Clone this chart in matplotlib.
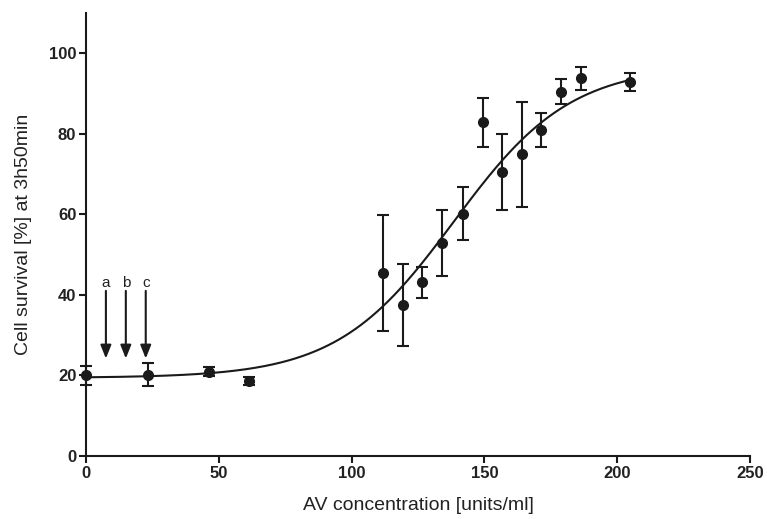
#!/usr/bin/env python3

import numpy as np
import matplotlib
matplotlib.use("Agg")
import matplotlib.pyplot as plt

plt.rcParams['font.family'] = ['Liberation Sans', 'DejaVu Sans']

# measured survival, mean and error
conc = [0, 23.4, 46.4, 61.5, 111.9, 119.4, 126.7, 134.2, 141.8, 149.3,
        156.7, 164.1, 171.5, 179.0, 186.4, 205.0]
survival = [20.0, 20.2, 20.9, 18.6, 45.4, 37.4, 43.1, 52.8, 60.2, 82.9,
            70.5, 74.9, 80.9, 90.5, 93.8, 92.9]
err = [2.3, 2.9, 1.1, 1.0, 14.4, 10.2, 3.8, 8.2, 6.5, 6.1,
       9.4, 13.0, 4.2, 3.2, 2.9, 2.3]

# sigmoid fit parameters (bottom, top, midpoint, slope)
fit_bottom = 19.4
fit_top = 97.0
fit_mid = 138.5
fit_slope = 22.0
fit_range = (0, 205)

# arrows a, b, c
arrow_x = [7.5, 15.0, 22.5]
arrow_labels = ["a", "b", "c"]


def boltzmann(x, bottom, top, mid, slope):
    return bottom + (top - bottom) / (1 + np.exp((mid - x) / slope))


fig = plt.figure(figsize=(7.67, 5.19), dpi=100)
ax = fig.add_axes([0.1121, 0.1214, 0.8657, 0.8536])

xs = np.linspace(fit_range[0], fit_range[1], 300)
ax.plot(xs, boltzmann(xs, fit_bottom, fit_top, fit_mid, fit_slope),
        color='#1a1a1a', lw=1.5, clip_on=False)

ax.errorbar(conc, survival, yerr=err, fmt='o', color='#1a1a1a',
            markersize=7, elinewidth=1.5, capsize=4, capthick=1.5,
            clip_on=False, zorder=3)

for x, lab in zip(arrow_x, arrow_labels):
    ax.annotate("", xy=(x, 24.2), xytext=(x, 41.0),
                arrowprops=dict(arrowstyle='-|>,head_length=0.8,head_width=0.32',
                                color='#1a1a1a', lw=1.5, shrinkA=0, shrinkB=0))
    ax.text(x, 43.0, lab, ha='center', va='center', fontsize=11, color='#222222')

ax.set_xlim(0, 250)
ax.set_ylim(0, 110)
ax.set_xticks([0, 50, 100, 150, 200, 250])
ax.set_yticks([0, 20, 40, 60, 80, 100])

for s in ['top', 'right']:
    ax.spines[s].set_visible(False)
for s in ['left', 'bottom']:
    ax.spines[s].set_linewidth(1.5)
    ax.spines[s].set_color('#1a1a1a')

ax.tick_params(direction='out', length=5, width=1.5, color='#1a1a1a',
               labelsize=12, pad=2)
for t in ax.get_xticklabels() + ax.get_yticklabels():
    t.set_fontweight('bold')
    t.set_color('#222222')

ax.set_xlabel("AV concentration [units/ml]", fontsize=14, color='#222222', labelpad=12)
ax.set_ylabel("Cell survival [%] at 3h50min", fontsize=14, color='#222222', labelpad=12)

fig.savefig("out.png", dpi=100)
